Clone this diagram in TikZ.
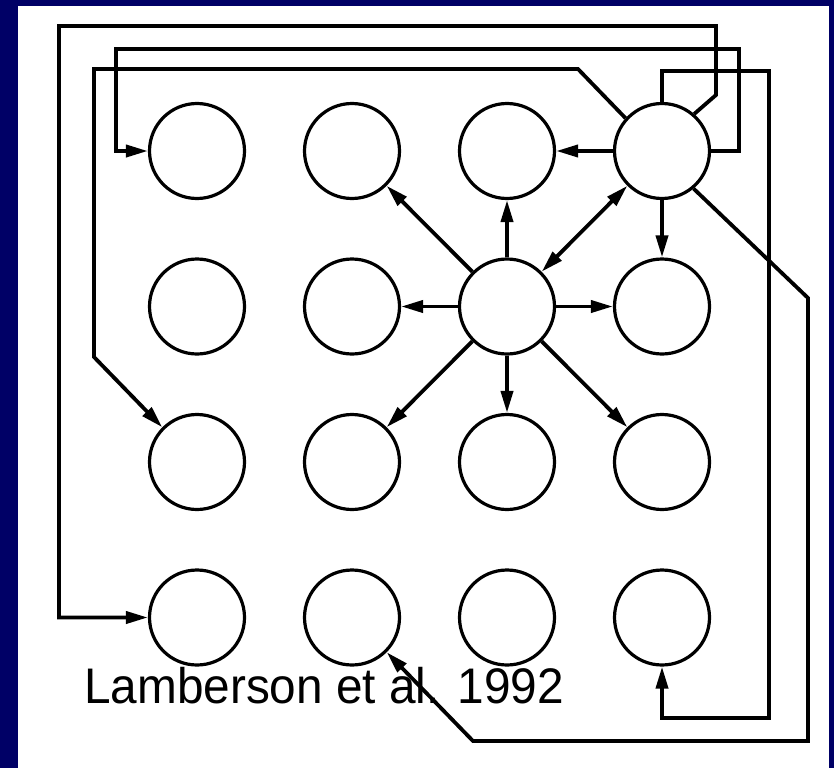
\documentclass[tikz,border=0pt]{standalone}
\usepackage{fontspec}
\setmainfont{Liberation Sans}
\usetikzlibrary{arrows.meta}
\definecolor{navybg}{RGB}{0,0,102}
\begin{document}
\begin{tikzpicture}[x=1pt,y=-1pt,
  cell/.style={circle,draw=black,line width=3.2pt,minimum size=95pt,inner sep=0pt,fill=white},
  tip/.tip={Triangle[length=22pt,width=12pt]},
  link/.style={line width=3.8pt,-tip},
  both/.style={line width=3.8pt,tip-tip}]
\useasboundingbox (0,0) rectangle (834,768);
\fill[navybg] (0,0) rectangle (834,768);
\fill[white] (18,6) rectangle (829,768);
\foreach \r/\y in {1/151,2/306.5,3/462,4/617.5}
  \foreach \c/\x in {1/197,2/352,3/507,4/662}
    \node[cell] (c\r\c) at (\x,\y) {};
% star from the centre cell
\draw[link] (c23) -- (c22);
\draw[link] (c23) -- (c13);
\draw[link] (c23) -- (c12);
\draw[link] (c23) -- (c24);
\draw[link] (c23) -- (c32);
\draw[link] (c23) -- (c33);
\draw[link] (c23) -- (c34);
\draw[both] (c23) -- (c14);
\draw[link] (c14) -- (c13);
\draw[link] (c14) -- (c24);
% long connectors
\draw[link] (c14.49) -- (716,95) -- (716,26) -- (59,26) |- (c41.west);
\draw[link] (c14.east) -| (739,49) -- (116,49) |- (c11.west);
\draw[link] (c14.north) |- (769,71) -- (769,718) -| (c44.south);
\draw[link] (c14.138) -- (578,69) -- (94,69) -- (94,357) -- (c31.135);
\node[anchor=base west,inner sep=0pt,font=\fontsize{50pt}{50pt}\selectfont] (cite) at (84,703) {\scalebox{0.955}[1]{Lamberson et al. 1992}};
\draw[link] (c14.-50) -- (808,298) -- (808,741) -- (473,741) -- (c42.-45);
\end{tikzpicture}
\end{document}
